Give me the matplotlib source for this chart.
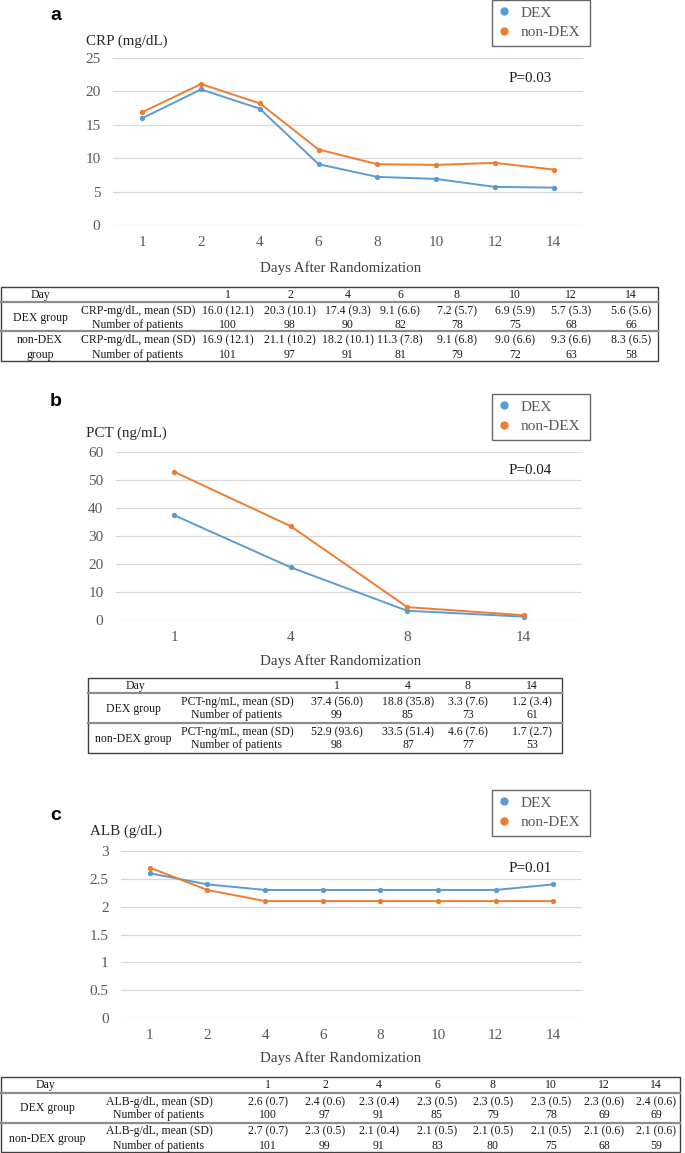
import matplotlib
matplotlib.use("Agg")
import matplotlib.pyplot as plt
import numpy as np
from matplotlib.lines import Line2D
from matplotlib.patches import Rectangle
from matplotlib.transforms import Affine2D
from matplotlib.ticker import FuncFormatter

# ---- data ----
days_8 = [1, 2, 4, 6, 8, 10, 12, 14]
days_4 = [1, 4, 8, 14]

crp_dex = [16.0, 20.3, 17.4, 9.1, 7.2, 6.9, 5.7, 5.6]
crp_dex_sd = [12.1, 10.1, 9.3, 6.6, 5.7, 5.9, 5.3, 5.6]
crp_dex_n = [100, 98, 90, 82, 78, 75, 68, 66]
crp_non = [16.9, 21.1, 18.2, 11.3, 9.1, 9.0, 9.3, 8.3]
crp_non_sd = [12.1, 10.2, 10.1, 7.8, 6.8, 6.6, 6.6, 6.5]
crp_non_n = [101, 97, 91, 81, 79, 72, 63, 58]

pct_dex = [37.4, 18.8, 3.3, 1.2]
pct_dex_sd = [56.0, 35.8, 7.6, 3.4]
pct_dex_n = [99, 85, 73, 61]
pct_non = [52.9, 33.5, 4.6, 1.7]
pct_non_sd = [93.6, 51.4, 7.6, 2.7]
pct_non_n = [98, 87, 77, 53]

alb_dex = [2.6, 2.4, 2.3, 2.3, 2.3, 2.3, 2.3, 2.4]
alb_dex_sd = [0.7, 0.6, 0.4, 0.5, 0.5, 0.5, 0.6, 0.6]
alb_dex_n = [100, 97, 91, 85, 79, 78, 69, 69]
alb_non = [2.7, 2.3, 2.1, 2.1, 2.1, 2.1, 2.1, 2.1]
alb_non_sd = [0.7, 0.5, 0.4, 0.5, 0.5, 0.5, 0.6, 0.6]
alb_non_n = [101, 99, 91, 83, 80, 75, 68, 59]

p_values = ["P=0.03", "P=0.04", "P=0.01"]

BLUE = "#5B9BD5"
ORANGE = "#ED7D31"
GRID = "#D9D9D9"
TICK = "#595959"
SERIF = ["Liberation Serif", "DejaVu Serif"]

W, H = 685, 1153
fig = plt.figure(figsize=(W / 100, H / 100), dpi=100)
fig.patch.set_facecolor("white")
# pixel coordinates, origin top-left
pix = Affine2D().scale(1 / W, -1 / H).translate(0, 1) + fig.transFigure


def fmt_num(v, _pos=None):
    return f"{v:g}"


def add_chart(left, right, top, bottom, days, dex, non, ymax, ystep,
              letter, letter_y, ylabel, ylabel_x, ylabel_y,
              legend_top, p_text, p_y, xlab_y):
    ax = fig.add_axes([left / W, 1 - bottom / H, (right - left) / W, (bottom - top) / H])
    x = np.arange(len(days))
    ax.plot(x, dex, color=BLUE, lw=1.4, marker="o", ms=2.8, label="DEX", zorder=3)
    ax.plot(x, non, color=ORANGE, lw=1.4, marker="o", ms=2.8, label="non-DEX", zorder=3)
    ax.set_xlim(-0.5, len(days) - 0.5)
    ax.set_ylim(0, ymax)
    ax.set_xticks(x)
    ax.set_xticklabels([str(d) for d in days])
    ax.set_yticks(np.arange(0, ymax + ystep / 2, ystep))
    ax.yaxis.set_major_formatter(FuncFormatter(fmt_num))
    ax.yaxis.grid(True, color=GRID, lw=0.9)
    ax.set_axisbelow(True)
    for s in ax.spines.values():
        s.set_visible(False)
    ax.tick_params(length=0, labelsize=11, colors=TICK)
    ax.tick_params(axis="y", pad=9)
    ax.tick_params(axis="x", pad=8)
    for lab in ax.get_xticklabels() + ax.get_yticklabels():
        lab.set_family(SERIF)

    fig.text(56, letter_y, letter, transform=pix, ha="center", va="center",
             fontsize=14, fontweight="bold", family=["Liberation Sans", "DejaVu Sans"])
    fig.text(ylabel_x, ylabel_y, ylabel, transform=pix, ha="left", va="center",
             fontsize=10.8, family=SERIF, color="#262626")
    fig.text(530, p_y, p_text, transform=pix, ha="center", va="center",
             fontsize=10.8, family=SERIF, color="#1a1a1a")
    fig.text(341, xlab_y, "Days After Randomization", transform=pix, ha="center",
             va="center", fontsize=10.8, family=SERIF, color="#404040")

    handles = [Line2D([], [], color=BLUE, marker="o", ls="none", ms=5),
               Line2D([], [], color=ORANGE, marker="o", ls="none", ms=5)]
    leg = fig.legend(handles, ["DEX", "non-DEX"], loc="upper left",
                     bbox_to_anchor=(492 / W, 1 - legend_top / H, 98 / W, 0.0001),
                     mode="expand", fancybox=False, frameon=True,
                     prop={"family": SERIF, "size": 11},
                     handlelength=0.8, handletextpad=0.7, borderpad=0.4,
                     labelspacing=0.4, borderaxespad=0)
    leg.get_frame().set_edgecolor("#404040")
    leg.get_frame().set_linewidth(1.0)
    for t in leg.get_texts():
        t.set_color(TICK)
    return ax


def draw_table(x0, x1, y0, day_line, grp_line, y1, day_x, grp_x, lab_x, col_x,
               row_y, days, label, dex, dex_sd, dex_n, non, non_sd, non_n,
               grp_y, non_two_lines):
    fig.add_artist(Rectangle((x0, y0), x1 - x0, y1 - y0, transform=pix,
                             fill=False, ec="#404040", lw=1.0))
    for yy in (day_line, grp_line):
        fig.add_artist(Line2D([x0, x1], [yy, yy], transform=pix, color="#8c8c8c", lw=1.6))
    kw = dict(transform=pix, ha="center", va="center", fontsize=8.5, family=SERIF,
              color="#1a1a1a")
    fig.text(day_x, row_y[0], "Day", **kw)
    for cx, d in zip(col_x, days):
        fig.text(cx, row_y[0], str(d), **kw)
    fig.text(grp_x, grp_y[0], "DEX group", **kw)
    if non_two_lines:
        fig.text(grp_x, row_y[3], "non-DEX", **kw)
        fig.text(grp_x, row_y[4], "group", **kw)
    else:
        fig.text(grp_x, grp_y[1], "non-DEX group", **kw)
    for r0, m, sd, n in ((1, dex, dex_sd, dex_n), (3, non, non_sd, non_n)):
        fig.text(lab_x, row_y[r0], label, **kw)
        fig.text(lab_x, row_y[r0 + 1], "Number of patients", **kw)
        for cx, mv, sv, nv in zip(col_x, m, sd, n):
            fig.text(cx, row_y[r0], f"{mv:.1f} ({sv:.1f})", **kw)
            fig.text(cx, row_y[r0 + 1], str(nv), **kw)


# ---- panel a: CRP ----
add_chart(113, 583, 58, 225, days_8, crp_dex, crp_non, 25, 5,
          "a", 15, "CRP (mg/dL)", 86, 41, 0, p_values[0], 78, 268)
draw_table(1, 658, 287, 302, 331, 361, 40, 40, 138,
           [228, 290, 348, 400, 457, 515, 571, 631],
           [295, 311, 325, 340, 355], days_8, "CRP-mg/dL, mean (SD)",
           crp_dex, crp_dex_sd, crp_dex_n, crp_non, crp_non_sd, crp_non_n,
           [318, 347], True)

# ---- panel b: PCT ----
add_chart(116, 582, 452, 620, days_4, pct_dex, pct_non, 60, 10,
          "b", 402, "PCT (ng/mL)", 86, 433, 394, p_values[1], 471, 661)
draw_table(88, 562, 678, 693, 723, 753, 135, 133, 237,
           [337, 408, 468, 532],
           [686, 702, 715, 732, 745], days_4, "PCT-ng/mL, mean (SD)",
           pct_dex, pct_dex_sd, pct_dex_n, pct_non, pct_non_sd, pct_non_n,
           [709, 739], False)

# ---- panel c: ALB ----
add_chart(121, 582, 851, 1018, days_8, alb_dex, alb_non, 3, 0.5,
          "c", 816, "ALB (g/dL)", 90, 831, 790, p_values[2], 868, 1058)
draw_table(1, 680, 1077, 1093, 1123, 1152, 45, 47, 159,
           [268, 325, 379, 437, 493, 551, 604, 656],
           [1085, 1102, 1115, 1131, 1146], days_8, "ALB-g/dL, mean (SD)",
           alb_dex, alb_dex_sd, alb_dex_n, alb_non, alb_non_sd, alb_non_n,
           [1108, 1139], False)

fig.savefig("out.png", dpi=100, facecolor="white")
